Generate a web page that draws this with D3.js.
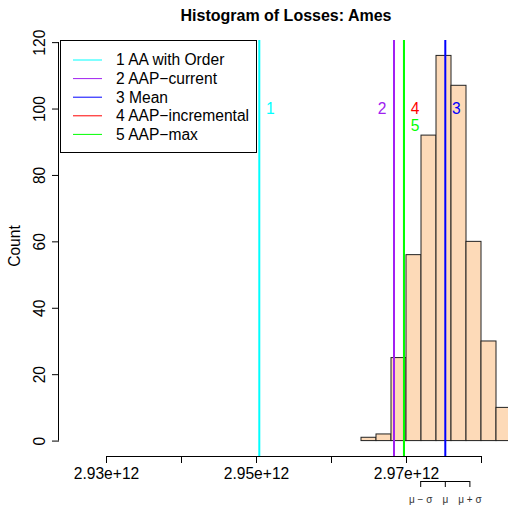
<!DOCTYPE html>
<html>
<head>
<meta charset="utf-8">
<script src="https://d3js.org/d3.v7.min.js"></script>
<style>
  body { margin: 0; background: #fff; }
  svg text { font-family: "Liberation Sans", Arial, sans-serif; }
</style>
</head>
<body>
<div id="chart"></div>
<script>
// histogram bins (start of each bin) and counts
const binStarts = [2.964e12, 2.966e12, 2.968e12, 2.970e12, 2.972e12, 2.974e12, 2.976e12, 2.978e12, 2.980e12, 2.982e12, 2.984e12];
const counts = [1, 2, 25, 56, 92, 116, 107, 60, 30, 10, 1];
const binWidth = 2e9;

// reference lines
const refLabels = ["1 AA with Order", "2 AAP\u2212current", "3 Mean", "4 AAP\u2212incremental", "5 AAP\u2212max"];
const refValues = [2.95044e12, 2.9684e12, 2.97524e12, 2.96973e12, 2.96973e12];
const refColors = ["#00ffff", "#a020f0", "#0000ff", "#ff0000", "#00ff00"];

const xTicks = [2.93e12, 2.94e12, 2.95e12, 2.96e12, 2.97e12, 2.98e12];
const xTickLabels = ["2.93e+12", "", "2.95e+12", "", "2.97e+12", ""];
const yTicks = [0, 20, 40, 60, 80, 100, 120];

const mu = 2.97524e12;
const sigma = 3.28e9;

const W = 508, H = 508;
const plot = { left: 59, top: 40, bottom: 456 };
const fs = 15.6;

const x = d3.scaleLinear()
    .domain([2.93e12, 2.98e12])
    .range([106, 481]);
const y = d3.scaleLinear()
    .domain([-4.64, 120.64])
    .range([plot.bottom, plot.top]);

const svg = d3.select("#chart").append("svg")
    .attr("width", W)
    .attr("height", H);

// title
svg.append("text")
    .attr("x", 286).attr("y", 21)
    .attr("text-anchor", "middle")
    .attr("font-weight", "bold")
    .attr("font-size", 16)
    .text("Histogram of Losses: Ames");

// bars
svg.append("g").selectAll("rect")
    .data(counts)
    .join("rect")
    .attr("x", (d, i) => x(binStarts[i]))
    .attr("width", x(binWidth) - x(0))
    .attr("y", d => y(d))
    .attr("height", d => y(0) - y(d))
    .attr("fill", "#fddab8")
    .attr("stroke", "#222")
    .attr("stroke-width", 1);

// y axis
const yAxis = svg.append("g")
    .attr("transform", `translate(${plot.left},0)`)
    .call(d3.axisLeft(y).tickValues(yTicks).tickSize(7).tickPadding(0).tickFormat(""));
yAxis.select(".domain").attr("d", `M-0.5,${y(0)}V${y(120)}`).attr("stroke", "#000");
yAxis.selectAll(".tick line").attr("stroke", "#000");
yAxis.selectAll(".tick").append("text")
    .attr("transform", "translate(-14,0) rotate(-90)")
    .attr("text-anchor", "middle")
    .attr("fill", "#000")
    .attr("font-size", fs)
    .text(d => d);

svg.append("text")
    .attr("transform", "translate(20,246) rotate(-90)")
    .attr("text-anchor", "middle")
    .attr("font-size", fs)
    .text("Count");

// x axis
const xAxis = svg.append("g")
    .attr("transform", `translate(0,${plot.bottom})`)
    .call(d3.axisBottom(x).tickValues(xTicks).tickSize(7).tickPadding(5)
        .tickFormat((d, i) => xTickLabels[i]));
xAxis.select(".domain").attr("d", `M${x(xTicks[0])},0.5H${x(xTicks[5])}`).attr("stroke", "#000");
xAxis.selectAll(".tick line").attr("stroke", "#000");
xAxis.selectAll(".tick text").attr("font-size", fs).attr("fill", "#000")
    .attr("font-family", "Liberation Sans, Arial, sans-serif");

// reference lines (draw red before green so green covers it)
const drawOrder = [0, 1, 3, 4, 2];
svg.append("g").selectAll("line")
    .data(drawOrder)
    .join("line")
    .attr("x1", i => x(refValues[i])).attr("x2", i => x(refValues[i]))
    .attr("y1", plot.top).attr("y2", plot.bottom)
    .attr("stroke", i => refColors[i])
    .attr("stroke-width", 2);

// line number labels
const labelDx = [11, -12, 11, 11, 11];
const labelY = [109, 109, 109, 109, 126];
svg.append("g").selectAll("text")
    .data(refValues)
    .join("text")
    .attr("x", (d, i) => x(d) + labelDx[i])
    .attr("y", (d, i) => labelY[i])
    .attr("dy", "0.35em")
    .attr("text-anchor", "middle")
    .attr("font-size", fs)
    .attr("fill", (d, i) => refColors[i])
    .text((d, i) => i + 1);

// legend
const legend = svg.append("g");
legend.append("rect")
    .attr("x", 60.5).attr("y", 40.5)
    .attr("width", 196).attr("height", 112)
    .attr("fill", "#fff")
    .attr("stroke", "#000");
const rows = legend.selectAll("g.row")
    .data(refLabels)
    .join("g")
    .attr("class", "row")
    .attr("transform", (d, i) => `translate(0,${60 + i * 18.6})`);
rows.append("line")
    .attr("x1", 73).attr("x2", 102)
    .attr("stroke", (d, i) => refColors[i])
    .attr("stroke-width", 1);
rows.append("text")
    .attr("x", 116)
    .attr("dy", "0.35em")
    .attr("font-size", fs)
    .text(d => d);

// mu +/- sigma bracket
const bracketVals = [mu - sigma, mu, mu + sigma];
const bracketLabels = ["\u03bc \u2212 \u03c3", "\u03bc", "\u03bc + \u03c3"];
const br = svg.append("g");
br.append("line")
    .attr("x1", x(bracketVals[0])).attr("x2", x(bracketVals[2]))
    .attr("y1", 481.5).attr("y2", 481.5)
    .attr("stroke", "#000");
br.selectAll("line.tk")
    .data(bracketVals)
    .join("line")
    .attr("class", "tk")
    .attr("x1", d => x(d)).attr("x2", d => x(d))
    .attr("y1", 481).attr("y2", 487)
    .attr("stroke", "#000");
br.selectAll("text")
    .data(bracketVals)
    .join("text")
    .attr("x", d => x(d))
    .attr("y", 503)
    .attr("text-anchor", "middle")
    .attr("font-size", 10)
    .attr("fill", "#333")
    .text((d, i) => bracketLabels[i]);
</script>
</body>
</html>
